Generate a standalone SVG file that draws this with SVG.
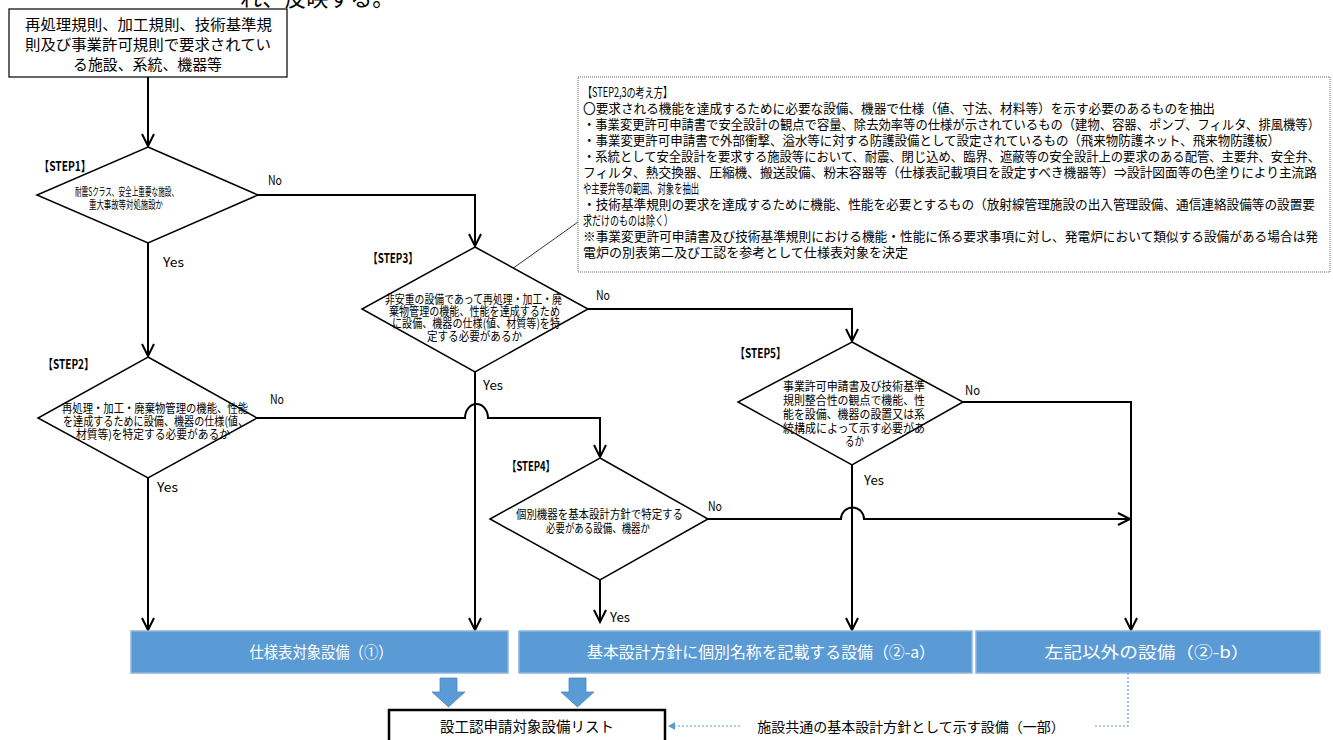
<svg xmlns="http://www.w3.org/2000/svg" width="1333" height="740" viewBox="0 0 1333 740">
<defs>
<style>
text{font-family:"Noto Sans CJK JP","Noto Sans",sans-serif;fill:#000}
.t15{font-size:15px}
.dm{font-size:12px}
.dm1{font-size:11.5px}
.lb{font-size:13px;font-weight:bold}
.yn{font-size:13px}
.note{font-size:13px}
.bl{font-size:16px;fill:#fff}
.dia{fill:#fff;stroke:#000;stroke-width:1.5}
.con{fill:none;stroke:#000;stroke-width:2}
.blue{fill:#5B9BD5;stroke:#8DB6E2;stroke-width:1.5}
.barrow{fill:#5B9BD5;stroke:#4A89C8;stroke-width:0.8}
.dot{fill:none;stroke:#5B9BD5;stroke-width:1.2;stroke-dasharray:2 2}
</style>
<marker id="ah" markerUnits="userSpaceOnUse" markerWidth="20" markerHeight="20" refX="0" refY="0" orient="auto" overflow="visible">
<path d="M-12,-6 L0,0 L-12,6" fill="none" stroke="#000" stroke-width="2"/>
</marker>
<marker id="bh" markerUnits="userSpaceOnUse" markerWidth="10" markerHeight="10" refX="0" refY="0" orient="auto" overflow="visible">
<path d="M-7,-4 L0,0 L-7,4 Z" fill="#5B9BD5"/>
</marker>
</defs>

<text x="240" y="6" style="font-size:22px">れ、反映する。</text>

<g id="connectors">
<path class="con" d="M148,77 V146" marker-end="url(#ah)"/>
<path class="con" d="M148,243 V356" marker-end="url(#ah)"/>
<path class="con" d="M257,195 H475 V246" marker-end="url(#ah)"/>
<path class="con" d="M148,478 V630" marker-end="url(#ah)"/>
<path class="con" d="M257,418 H465 A11.5,14 0 0 1 488,418 H600 V457" marker-end="url(#ah)"/>
<path class="con" d="M475,372 V630" marker-end="url(#ah)"/>
<path class="con" d="M588,309 H852 V341" marker-end="url(#ah)"/>
<path class="con" d="M600,580 V622" marker-end="url(#ah)"/>
<path class="con" d="M708,519 H841 A11.5,11.5 0 0 1 864,519 H1130" marker-end="url(#ah)"/>
<path class="con" d="M852,465 V630" marker-end="url(#ah)"/>
<path class="con" d="M963,402 H1131 V630" marker-end="url(#ah)"/>
<path d="M512,269 L578,222" fill="none" stroke="#000" stroke-width="0.8"/>
<path class="dot" d="M1128,673 V726 H1095"/>
<path class="dot" d="M740,726 H668" marker-end="url(#bh)"/>
</g>

<g id="start">
<rect x="9" y="9" width="278" height="68" fill="#fff" stroke="#000" stroke-width="1.2"/>
<text class="t15" x="25" y="30" textLength="247" lengthAdjust="spacingAndGlyphs">再処理規則、加工規則、技術基準規</text>
<text class="t15" x="25" y="50" textLength="246" lengthAdjust="spacingAndGlyphs">則及び事業許可規則で要求されてい</text>
<text class="t15" x="73" y="70" textLength="149" lengthAdjust="spacingAndGlyphs">る施設、系統、機器等</text>
</g>

<g id="note">
<rect x="578" y="77" width="752" height="195" fill="#fff" stroke="#666" stroke-width="1" stroke-dasharray="1 1"/>
<text class="note" x="583" y="96.5" textLength="89" lengthAdjust="spacingAndGlyphs">【STEP2,3の考え方】</text>
<text class="note" x="583" y="112.5" textLength="632" lengthAdjust="spacingAndGlyphs">〇要求される機能を達成するために必要な設備、機器で仕様（値、寸法、材料等）を示す必要のあるものを抽出</text>
<text class="note" x="583" y="128.5" textLength="737" lengthAdjust="spacingAndGlyphs">・事業変更許可申請書で安全設計の観点で容量、除去効率等の仕様が示されているもの（建物、容器、ポンプ、フィルタ、排風機等）</text>
<text class="note" x="583" y="144.5" textLength="697" lengthAdjust="spacingAndGlyphs">・事業変更許可申請書で外部衝撃、溢水等に対する防護設備として設定されているもの（飛来物防護ネット、飛来物防護板）</text>
<text class="note" x="583" y="160.5" textLength="737" lengthAdjust="spacingAndGlyphs">・系統として安全設計を要求する施設等において、耐震、閉じ込め、臨界、遮蔽等の安全設計上の要求のある配管、主要弁、安全弁、</text>
<text class="note" x="583" y="176.5" textLength="734" lengthAdjust="spacingAndGlyphs">フィルタ、熱交換器、圧縮機、搬送設備、粉末容器等（仕様表記載項目を設定すべき機器等）⇒設計図面等の色塗りにより主流路</text>
<text class="note" x="583" y="192.5" textLength="116" lengthAdjust="spacingAndGlyphs">や主要弁等の範囲、対象を抽出</text>
<text class="note" x="583" y="208.5" textLength="732" lengthAdjust="spacingAndGlyphs">・技術基準規則の要求を達成するために機能、性能を必要とするもの（放射線管理施設の出入管理設備、通信連絡設備等の設置要</text>
<text class="note" x="583" y="224.5" textLength="90" lengthAdjust="spacingAndGlyphs">求だけのものは除く）</text>
<text class="note" x="583" y="240.5" textLength="735" lengthAdjust="spacingAndGlyphs">※事業変更許可申請書及び技術基準規則における機能・性能に係る要求事項に対し、発電炉において類似する設備がある場合は発</text>
<text class="note" x="583" y="256.5" textLength="325" lengthAdjust="spacingAndGlyphs">電炉の別表第二及び工認を参考として仕様表対象を決定</text>
</g>

<g id="step1">
<polygon class="dia" points="148,147 258,195 148,243 37,195"/>
<text class="lb" x="39" y="171" textLength="52" lengthAdjust="spacingAndGlyphs">【STEP1】</text>
<text class="dm1" x="75" y="196" textLength="103" lengthAdjust="spacingAndGlyphs">耐震Sクラス、安全上重要な施設、</text>
<text class="dm1" x="89" y="209" textLength="74" lengthAdjust="spacingAndGlyphs">重大事故等対処施設か</text>
<text class="yn" x="268" y="185" textLength="14" lengthAdjust="spacingAndGlyphs">No</text>
<text class="yn" x="163" y="267" textLength="21" lengthAdjust="spacingAndGlyphs">Yes</text>
</g>

<g id="step2">
<polygon class="dia" points="148,357 257,418 148,478 38,418"/>
<text class="lb" x="43" y="369" textLength="51" lengthAdjust="spacingAndGlyphs">【STEP2】</text>
<text class="dm" x="62" y="413" textLength="186" lengthAdjust="spacingAndGlyphs">再処理・加工・廃棄物管理の機能、性能</text>
<text class="dm" x="63" y="426" textLength="185" lengthAdjust="spacingAndGlyphs">を達成するために設備、機器の仕様(値、</text>
<text class="dm" x="76" y="439" textLength="154" lengthAdjust="spacingAndGlyphs">材質等)を特定する必要があるか</text>
<text class="yn" x="270" y="404" textLength="14" lengthAdjust="spacingAndGlyphs">No</text>
<text class="yn" x="157" y="492" textLength="21" lengthAdjust="spacingAndGlyphs">Yes</text>
</g>

<g id="step3">
<polygon class="dia" points="475,247 588,309 475,372 362,309"/>
<text class="lb" x="368" y="263" textLength="50" lengthAdjust="spacingAndGlyphs">【STEP3】</text>
<text class="dm" x="385" y="304" textLength="177" lengthAdjust="spacingAndGlyphs">非安重の設備であって再処理・加工・廃</text>
<text class="dm" x="389" y="316" textLength="171" lengthAdjust="spacingAndGlyphs">棄物管理の機能、性能を達成するため</text>
<text class="dm" x="392" y="328" textLength="168" lengthAdjust="spacingAndGlyphs">に設備、機器の仕様(値、材質等)を特</text>
<text class="dm" x="427" y="341" textLength="95" lengthAdjust="spacingAndGlyphs">定する必要があるか</text>
<text class="yn" x="596" y="300" textLength="14" lengthAdjust="spacingAndGlyphs">No</text>
<text class="yn" x="483" y="390" textLength="20" lengthAdjust="spacingAndGlyphs">Yes</text>
</g>

<g id="step4">
<polygon class="dia" points="600,458 708,519 600,580 490,519"/>
<text class="lb" x="507" y="471" textLength="48" lengthAdjust="spacingAndGlyphs">【STEP4】</text>
<text class="dm" x="516" y="519" textLength="167" lengthAdjust="spacingAndGlyphs">個別機器を基本設計方針で特定する</text>
<text class="dm" x="546" y="533" textLength="104" lengthAdjust="spacingAndGlyphs">必要がある設備、機器か</text>
<text class="yn" x="708" y="511" textLength="14" lengthAdjust="spacingAndGlyphs">No</text>
<text class="yn" x="610" y="622" textLength="20" lengthAdjust="spacingAndGlyphs">Yes</text>
</g>

<g id="step5">
<polygon class="dia" points="852,342 963,402 852,465 738,402"/>
<text class="lb" x="735" y="358" textLength="51" lengthAdjust="spacingAndGlyphs">【STEP5】</text>
<text class="dm" x="783" y="391" textLength="142" lengthAdjust="spacingAndGlyphs">事業許可申請書及び技術基準</text>
<text class="dm" x="783" y="405" textLength="142" lengthAdjust="spacingAndGlyphs">規則整合性の観点で機能、性</text>
<text class="dm" x="783" y="419" textLength="142" lengthAdjust="spacingAndGlyphs">能を設備、機器の設置又は系</text>
<text class="dm" x="783" y="433" textLength="142" lengthAdjust="spacingAndGlyphs">統構成によって示す必要があ</text>
<text class="dm" x="845" y="446" textLength="19" lengthAdjust="spacingAndGlyphs">るか</text>
<text class="yn" x="965" y="395" textLength="15" lengthAdjust="spacingAndGlyphs">No</text>
<text class="yn" x="864" y="485" textLength="20" lengthAdjust="spacingAndGlyphs">Yes</text>
</g>

<g id="result1">
<rect class="blue" x="131" y="631" width="377" height="42"/>
<text class="bl" x="321" y="658" text-anchor="middle" textLength="143" lengthAdjust="spacingAndGlyphs">仕様表対象設備（①）</text>
</g>
<g id="result2a">
<rect class="blue" x="519" y="631" width="453" height="42"/>
<text class="bl" x="761" y="658" text-anchor="middle" textLength="348" lengthAdjust="spacingAndGlyphs">基本設計方針に個別名称を記載する設備（②-a）</text>
</g>
<g id="result2b">
<rect class="blue" x="976" y="631" width="344" height="42"/>
<text class="bl" x="1147" y="658" text-anchor="middle" textLength="205" lengthAdjust="spacingAndGlyphs">左記以外の設備（②-b）</text>
</g>

<g id="blockarrows">
<path class="barrow" d="M440,678 H457 V692 H465 L448.5,707 L432,692 H440 Z"/>
<path class="barrow" d="M569,678 H586 V692 H594 L577.5,707 L561,692 H569 Z"/>
</g>

<g id="list">
<rect x="389" y="710" width="276" height="32" fill="#fff" stroke="#000" stroke-width="2.5"/>
<text x="527" y="732" text-anchor="middle" style="font-size:14.5px">設工認申請対象設備リスト</text>
</g>

<g id="common">
<text x="911" y="732" text-anchor="middle" style="font-size:14px">施設共通の基本設計方針として示す設備（一部）</text>
</g>
</svg>
